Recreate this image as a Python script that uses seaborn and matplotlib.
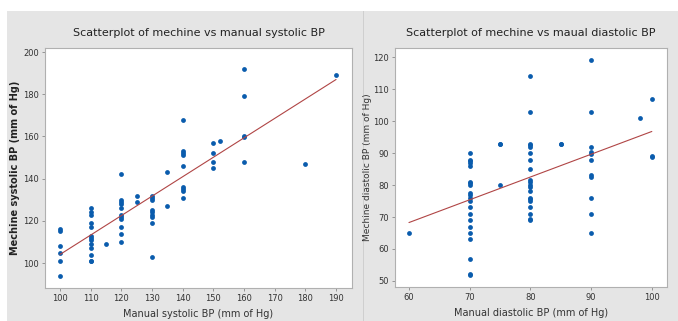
import numpy as np
import pandas as pd
import seaborn as sns
import matplotlib.pyplot as plt
from matplotlib.patches import Rectangle

# systolic readings (manual vs machine)
sys_manual = [100]*6 + [110]*13 + [115] + [120]*11 + [125]*2 + [130]*9 + [135]*2 + \
             [140]*9 + [150]*4 + [152] + [160]*5 + [180] + [190]
sys_machine = [116, 115, 108, 105, 101, 94,
               126, 124, 123, 119, 117, 113, 112, 111, 109, 107, 104, 101, 101,
               109,
               142, 130, 129, 128, 126, 123, 122, 121, 117, 114, 110,
               132, 129,
               132, 131, 130, 125, 124, 123, 122, 119, 103,
               143, 127,
               168, 153, 152, 151, 146, 136, 135, 134, 131,
               157, 152, 148, 145,
               158,
               192, 179, 160, 159.5, 148,
               147,
               189]

# diastolic readings (manual vs machine)
dia_manual = [60] + [70]*21 + [75]*3 + [80]*20 + [85]*2 + [90]*11 + [98] + [100]*3
dia_machine = [65,
               90, 88, 87.5, 87, 86, 81, 80.5, 80, 77.5, 77, 76, 75, 73, 71, 69, 67, 65, 63, 57, 52.3, 51.8,
               93, 92.8, 80,
               114, 103, 93, 92.5, 92, 90, 88, 85, 81.5, 81, 80, 79.5, 78, 76, 75.5, 75, 73, 71, 69.5, 69,
               93, 92.8,
               119, 103, 92, 90.2, 89.8, 88, 83, 82.6, 76, 71, 65,
               101,
               107, 89, 88.7]

sys_df = pd.DataFrame({"manual": sys_manual, "machine": sys_machine})
dia_df = pd.DataFrame({"manual": dia_manual, "machine": dia_machine})

sns.set_style("white")
plt.rcParams['font.family'] = ['DejaVu Sans Condensed', 'Liberation Sans Narrow', 'DejaVu Sans']

W, H = 678, 321
fig = plt.figure(figsize=(W / 100, H / 100), dpi=100, facecolor="white")

# minitab-like gray panels
panel_gray = "#e5e5e5"
fig.add_artist(Rectangle((7 / W, 0), (363 - 7) / W, 1 - 11 / H, transform=fig.transFigure,
                         facecolor=panel_gray, edgecolor="none", zorder=0))
fig.add_artist(Rectangle((364 / W, 0), (W - 364) / W, 1 - 11 / H, transform=fig.transFigure,
                         facecolor=panel_gray, edgecolor="none", zorder=0))
fig.add_artist(Rectangle((363 / W, 0), 1 / W, 1 - 11 / H, transform=fig.transFigure,
                         facecolor="#cfcfcf", edgecolor="none", zorder=0))

ax1 = fig.add_axes([45 / W, 1 - 288 / H, (352 - 45) / W, (288 - 48) / H])
ax2 = fig.add_axes([395 / W, 1 - 287 / H, (667 - 395) / W, (287 - 48) / H])

dot_blue = "#0a5cad"
line_red = "#b04545"

for ax, d in [(ax1, sys_df), (ax2, dia_df)]:
    sns.regplot(data=d, x="manual", y="machine", ax=ax, ci=None,
                scatter_kws=dict(s=12, color=dot_blue, linewidths=0, alpha=1),
                line_kws=dict(color=line_red, lw=0.8))
    ax.set_facecolor("white")
    for sp in ax.spines.values():
        sp.set_color("#b0b0b0")
        sp.set_linewidth(0.8)
    ax.tick_params(axis="both", which="both", length=2.5, width=0.6, color="#888888",
                   labelsize=6, labelcolor="#333333", direction="out", pad=2,
                   bottom=True, left=True)

ax1.set_xlim(95.1, 195.2)
ax1.set_ylim(88.2, 201.9)
ax1.set_xticks(np.arange(100, 191, 10))
ax1.set_yticks(np.arange(100, 201, 20))

ax2.set_xlim(57.7, 102.5)
ax2.set_ylim(48.1, 122.9)
ax2.set_xticks(np.arange(60, 101, 10))
ax2.set_yticks(np.arange(50, 121, 10))

ax1.set_title("Scatterplot of mechine vs manual systolic BP", fontsize=8, color="#222222", pad=9)
ax2.set_title("Scatterplot of mechine vs maual diastolic BP", fontsize=8, color="#222222", pad=9)
ax1.set_xlabel("Manual systolic BP (mm of Hg)", fontsize=7, color="#333333", labelpad=4)
ax2.set_xlabel("Manual diastolic BP (mm of Hg)", fontsize=7, color="#333333", labelpad=4)
ax1.set_ylabel("Mechine systolic BP (mm of Hg)", fontsize=7, color="#222222",
               family="DejaVu Sans", fontweight="bold", labelpad=2)
ax2.set_ylabel("Mechine diastolic BP (mm of Hg)", fontsize=6.5, color="#333333",
               family="DejaVu Sans", labelpad=1)

fig.savefig("out.png", dpi=100, facecolor="white")
